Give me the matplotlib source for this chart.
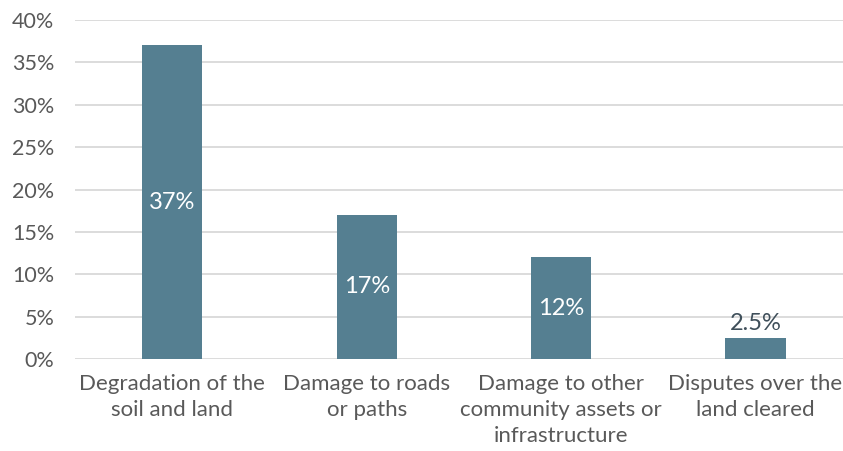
import matplotlib.pyplot as plt
from matplotlib.ticker import FuncFormatter

categories = ["Degradation of the\nsoil and land", "Damage to roads\nor paths",
              "Damage to other\ncommunity assets or\ninfrastructure", "Disputes over the\nland cleared"]
values = [37, 17, 12, 2.5]
labels = ["37%", "17%", "12%", "2.5%"]

plt.rcParams['font.family'] = ['Lato', 'DejaVu Sans']

fig = plt.figure(figsize=(8.43, 4.51), dpi=100)
ax = fig.add_axes([75/843, 92/451, 768/843, 339/451])

x = range(len(values))
ax.bar(x, values, width=0.31, color='#557f91', zorder=3)

ax.set_ylim(0, 40)
ax.set_xlim(-0.5, 3.45)
ax.set_yticks(range(0, 41, 5))
ax.yaxis.set_major_formatter(FuncFormatter(lambda v, p: f"{v:.0f}%"))
ax.grid(axis='y', color='#d9d9d9', linewidth=1.3, zorder=0)
for s in ax.spines.values():
    s.set_visible(False)
ax.tick_params(axis='y', length=0, labelsize=15.5, colors='#595959', pad=15)
ax.tick_params(axis='x', length=0, labelsize=16, colors='#595959', pad=11)
ax.set_xticks(list(x))
ax.set_xticklabels(categories, linespacing=1.38)

# big bars get a white label in the middle, small ones a dark label on top
for i, (v, lab) in enumerate(zip(values, labels)):
    if v > 5:
        ax.text(i, v / 2, lab, ha='center', va='center', color='white', fontsize=17)
    else:
        ax.text(i, v + 0.4, lab, ha='center', va='bottom', color='#3f4f5a', fontsize=17)

fig.savefig('out.png', dpi=100)
